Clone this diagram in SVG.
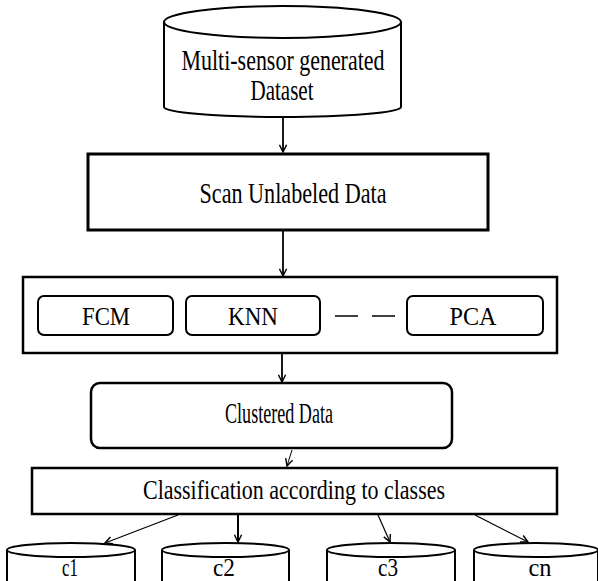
<svg xmlns="http://www.w3.org/2000/svg" width="598" height="581" viewBox="0 0 598 581">
<style>
.t{font-family:"Liberation Serif","Times New Roman",serif;fill:#000;text-anchor:middle}
.box{fill:#fff;stroke:#000}
.cyl{fill:#fff;stroke:#000;stroke-width:2}
.ln{stroke:#000;fill:none}
</style>
<defs>
<marker id="ah" viewBox="0 0 10 10" refX="9" refY="5" markerWidth="9" markerHeight="9" markerUnits="userSpaceOnUse" orient="auto">
<path d="M1,1 L9,5 L1,9" fill="none" stroke="#000" stroke-width="1.6"/>
</marker>
</defs>
<rect width="598" height="581" fill="#fff"/>

<g id="dataset">
<path class="cyl" d="M164,22 A118.5,16 0 0 1 401,22 L401,107 A118.5,10 0 0 1 164,107 Z"/>
<path class="ln" stroke-width="2" d="M164,22 A118.5,16 0 0 0 401,22"/>
<text class="t" x="283" y="70" font-size="30" textLength="203" lengthAdjust="spacingAndGlyphs">Multi-sensor generated</text>
<text class="t" x="282" y="100" font-size="30" textLength="63" lengthAdjust="spacingAndGlyphs">Dataset</text>
</g>

<g id="scan">
<rect class="box" x="88" y="154" width="400" height="76" stroke-width="3"/>
<text class="t" x="293" y="203" font-size="30" textLength="187" lengthAdjust="spacingAndGlyphs">Scan Unlabeled Data</text>
</g>

<g id="methods">
<rect class="box" x="23" y="277" width="534" height="76" stroke-width="2.5"/>
<g id="fcm">
<rect class="box" x="38" y="296" width="135" height="39" rx="6" stroke-width="2"/>
<text class="t" x="106" y="325" font-size="25" textLength="48" lengthAdjust="spacingAndGlyphs">FCM</text>
</g>
<g id="knn">
<rect class="box" x="186" y="296" width="134" height="39" rx="6" stroke-width="2"/>
<text class="t" x="253" y="325" font-size="25" textLength="50" lengthAdjust="spacingAndGlyphs">KNN</text>
</g>
<g id="pca">
<rect class="box" x="407" y="296" width="136" height="39" rx="6" stroke-width="2"/>
<text class="t" x="473" y="325" font-size="25" textLength="47" lengthAdjust="spacingAndGlyphs">PCA</text>
</g>
<line class="ln" x1="335" y1="316" x2="358" y2="316" stroke-width="1.5"/>
<line class="ln" x1="372" y1="316" x2="395" y2="316" stroke-width="1.5"/>
</g>

<g id="clustered">
<rect class="box" x="91" y="383" width="361" height="65" rx="9" stroke-width="2.5"/>
<text class="t" x="279" y="423" font-size="29" textLength="108" lengthAdjust="spacingAndGlyphs">Clustered Data</text>
</g>

<g id="classification">
<rect class="box" x="32" y="468" width="525" height="46" stroke-width="2.5"/>
<text class="t" x="294" y="499" font-size="27" textLength="302" lengthAdjust="spacingAndGlyphs">Classification according to classes</text>
</g>

<g id="c1">
<path class="cyl" d="M7,550 A64,7 0 0 1 135,550 L135,583 L7,583 Z"/>
<path class="ln" stroke-width="2" d="M7,550 A64,7 0 0 0 135,550"/>
<text class="t" x="70" y="576" font-size="26" textLength="16" lengthAdjust="spacingAndGlyphs">c1</text>
</g>
<g id="c2">
<path class="cyl" d="M162,550 A63.5,7 0 0 1 289,550 L289,583 L162,583 Z"/>
<path class="ln" stroke-width="2" d="M162,550 A63.5,7 0 0 0 289,550"/>
<text class="t" x="224" y="576" font-size="26" textLength="22" lengthAdjust="spacingAndGlyphs">c2</text>
</g>
<g id="c3">
<path class="cyl" d="M327,550 A64,7 0 0 1 455,550 L455,583 L327,583 Z"/>
<path class="ln" stroke-width="2" d="M327,550 A64,7 0 0 0 455,550"/>
<text class="t" x="388" y="576" font-size="26" textLength="20" lengthAdjust="spacingAndGlyphs">c3</text>
</g>
<g id="cn">
<path class="cyl" d="M474,550 A62,7 0 0 1 598,550 L598,583 L474,583 Z"/>
<path class="ln" stroke-width="2" d="M474,550 A62,7 0 0 0 598,550"/>
<text class="t" x="540" y="576" font-size="26" textLength="23" lengthAdjust="spacingAndGlyphs">cn</text>
</g>

<g id="connectors" class="ln">
<line x1="283" y1="117" x2="283" y2="152" stroke-width="1.8" marker-end="url(#ah)"/>
<line x1="283" y1="231" x2="283" y2="276" stroke-width="1.8" marker-end="url(#ah)"/>
<line x1="282" y1="354" x2="282" y2="382" stroke-width="1.8" marker-end="url(#ah)"/>
<line x1="292" y1="450" x2="287" y2="466" stroke-width="1" marker-end="url(#ah)"/>
<line x1="178" y1="515" x2="105" y2="543" stroke-width="1.2" marker-end="url(#ah)"/>
<line x1="238" y1="515" x2="238" y2="542" stroke-width="2" marker-end="url(#ah)"/>
<line x1="378" y1="515" x2="390" y2="542" stroke-width="1.2" marker-end="url(#ah)"/>
<line x1="475" y1="515" x2="528" y2="542" stroke-width="1.2" marker-end="url(#ah)"/>
</g>
</svg>
